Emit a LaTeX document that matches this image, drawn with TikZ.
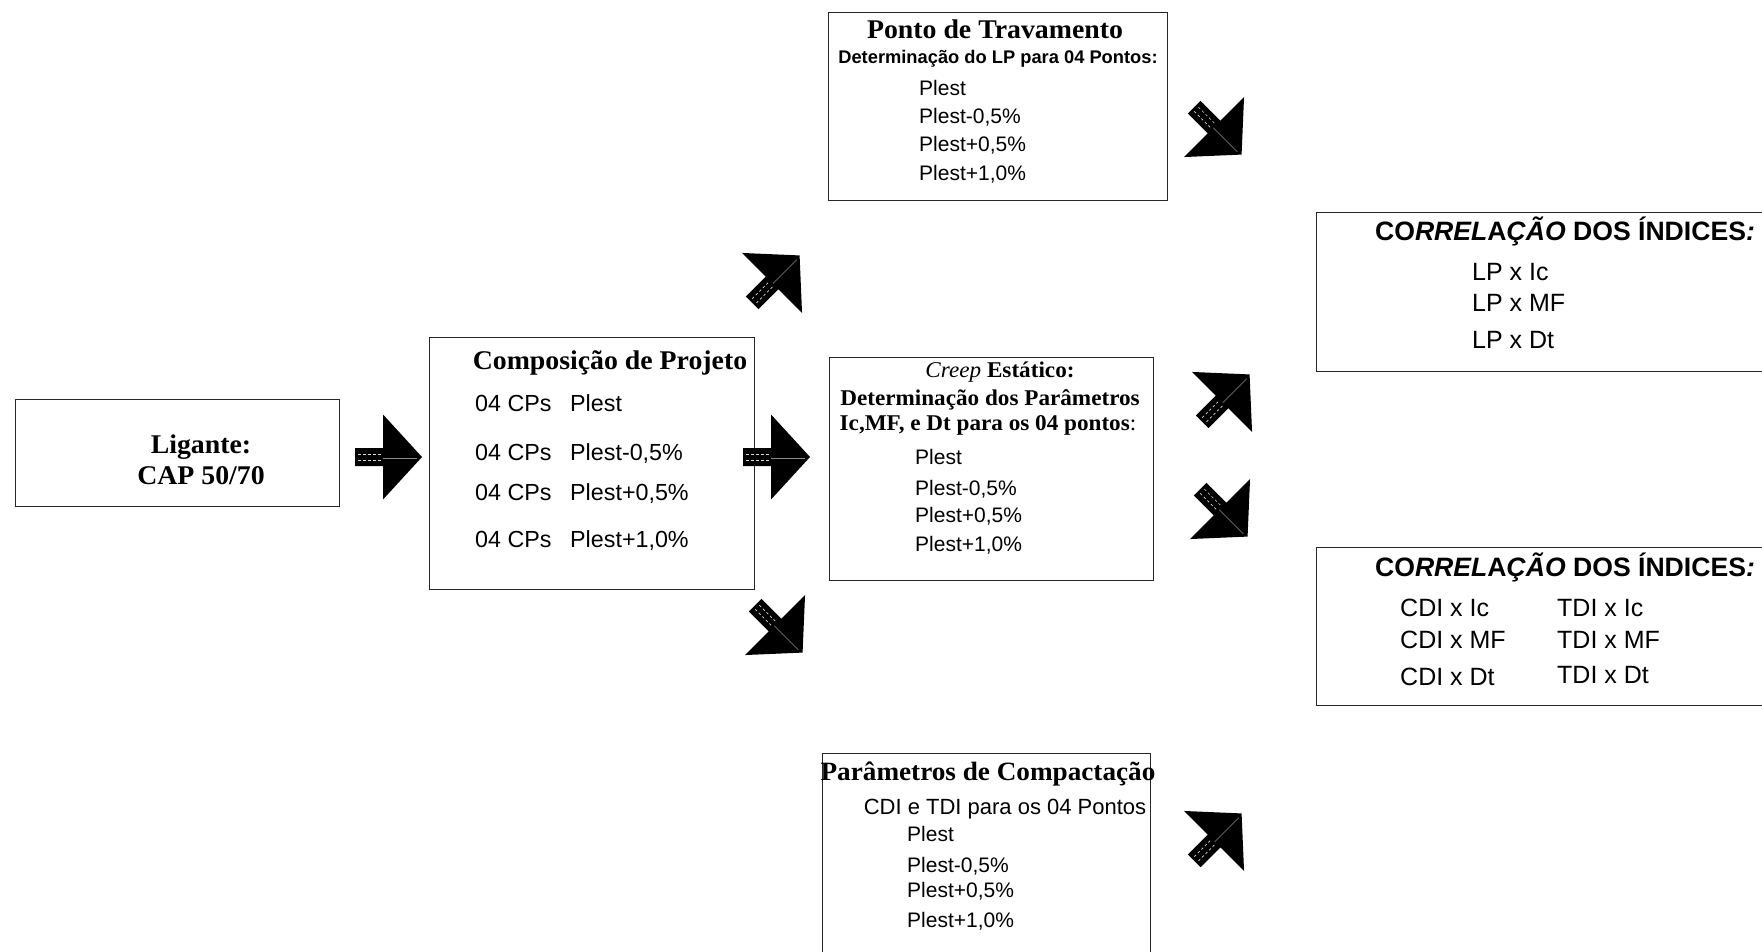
\documentclass[tikz,border=0pt]{standalone}
\usepackage{fontspec}
\setmainfont{Liberation Serif}
\setsansfont{Liberation Sans}
\newfontfamily\headrm[FakeStretch=1.03]{Liberation Serif}
\newcommand\fsz[1]{\fontsize{#1}{#1}\selectfont}

\tikzset{
  frame/.style={draw=black!85, line width=1.4pt, anchor=north west, inner sep=0pt},
  ttl/.style={anchor=base, inner sep=0pt, font=\headrm\bfseries\fsz{27}},
  sub/.style={anchor=base, inner sep=0pt, font=\headrm\bfseries\fsz{22.5}},
  item/.style={anchor=base west, inner sep=0pt, font=\sffamily\fsz{21}},
  cpitem/.style={anchor=base west, inner sep=0pt, font=\sffamily\fsz{23.3}},
  corrttl/.style={anchor=base, inner sep=0pt, font=\sffamily\bfseries\fsz{26.6}},
  corritem/.style={anchor=base west, inner sep=0pt, font=\sffamily\fsz{25}},
  blockarrow/.pic={
    \fill[black] (-28,-9) -- (0,-9) -- (0,-42.5) -- (39,0) -- (0,42.5) -- (0,9) -- (-28,9) -- cycle;
    \draw[white!85!black, line width=0.7pt, dash pattern=on 2.5pt off 2.5pt]
      (-25,-3) -- (-1,-3) (-25,3) -- (-1,3);
    \draw[white!55!black, line width=0.5pt] (0,1) -- (34,1);
  }
}

\begin{document}
\begin{tikzpicture}[x=1pt, y=-1pt]
\useasboundingbox (0,0) rectangle (1762,951);
\clip (0,0) rectangle (1762,951);
\fill[white] (0,0) rectangle (1762,951);

% boxes
\node[frame, minimum width=324pt, minimum height=107pt] (ligante) at (15,399) {};
\node[frame, minimum width=325pt, minimum height=252pt] (comp) at (429,337) {};
\node[frame, minimum width=339pt, minimum height=188pt] (ponto) at (828,12) {};
\node[frame, minimum width=324pt, minimum height=223pt] (creep) at (829,357) {};
\node[frame, minimum width=328pt, minimum height=260pt] (compac) at (822,753) {};
\node[frame, minimum width=500pt, minimum height=159pt] (corrA) at (1316,212) {};
\node[frame, minimum width=500pt, minimum height=158pt] (corrB) at (1316,547) {};

% Ligante
\node[ttl] (lig1) at (201,453) {Ligante:};
\node[ttl] (lig2) at (201,484) {CAP 50/70};

% Composicao de projeto
\node[ttl] (comp-t) at (610,369) {Composição de Projeto};
\foreach \y/\v [count=\i] in {411/{Plest}, 460/{Plest-0,5\%}, 500/{Plest+0,5\%}, 547/{Plest+1,0\%}}{
  \node[cpitem] (comp-a\i) at (475,\y) {04 CPs};
  \node[cpitem] (comp-b\i) at (570,\y) {\v};
}

% Ponto de travamento
\node[ttl] (ponto-t) at (995,38) {Ponto de Travamento};
\node[anchor=base, inner sep=0pt, font=\sffamily\bfseries\fsz{18.3}] (ponto-s) at (998,63) {Determinação do LP para 04 Pontos:};
\foreach \y/\v [count=\i] in {95.5/{Plest}, 123.5/{Plest-0,5\%}, 151.5/{Plest+0,5\%}, 180.5/{Plest+1,0\%}}
  \node[item] (ponto-\i) at (919,\y) {\v};

% Creep estatico
\node[sub, font=\headrm\fsz{22.5}] (creep-t) at (1000,377) {\textit{Creep} \textbf{Estático:}};
\node[sub] (creep-s1) at (990,405) {Determinação dos Parâmetros};
\node[sub] (creep-s2) at (988,430) {Ic,MF, e Dt para os 04 pontos\textmd{:}};
\foreach \y/\v [count=\i] in {464.5/{Plest}, 495.5/{Plest-0,5\%}, 522.5/{Plest+0,5\%}, 551.5/{Plest+1,0\%}}
  \node[item] (creep-\i) at (915,\y) {\v};

% Parametros de compactacao
\node[ttl, font=\headrm\bfseries\fsz{26.4}] (compac-t) at (988,780) {Parâmetros de Compactação};
\node[anchor=base, inner sep=0pt, font=\sffamily\fsz{22}] (compac-s) at (1005,814) {CDI e TDI para os 04 Pontos};
\foreach \y/\v [count=\i] in {841.5/{Plest}, 872.5/{Plest-0,5\%}, 897.5/{Plest+0,5\%}, 927.5/{Plest+1,0\%}}
  \node[item] (compac-\i) at (907,\y) {\v};

% Correlacoes
\node[corrttl] (corrA-t) at (1565,240) {CO\textit{RREL}A\textit{ÇÃO} DOS ÍNDICES\textit{:}};
\node[corritem] (corrA-1) at (1472,280) {LP x Ic};
\node[corritem] (corrA-2) at (1472,311) {LP x MF};
\node[corritem] (corrA-3) at (1472,348) {LP x Dt};

\node[corrttl] (corrB-t) at (1565,576) {CO\textit{RREL}A\textit{ÇÃO} DOS ÍNDICES\textit{:}};
\node[corritem] (corrB-1) at (1400,616) {CDI x Ic};
\node[corritem] (corrB-2) at (1400,648) {CDI x MF};
\node[corritem] (corrB-3) at (1400,685) {CDI x Dt};
\node[corritem] (corrB-4) at (1557,616) {TDI x Ic};
\node[corritem] (corrB-5) at (1557,648) {TDI x MF};
\node[corritem] (corrB-6) at (1557,683) {TDI x Dt};

% block arrows
\pic (arrA) at (383,457) {blockarrow};
\pic (arrB) at (771,457) {blockarrow};
\pic[rotate=45] (arrC) at (772,283) {blockarrow};
\pic[rotate=-45] (arrD) at (775,625) {blockarrow};
\pic[rotate=-45] (arrE) at (1214,127) {blockarrow};
\pic[rotate=45] (arrF) at (1222,402) {blockarrow};
\pic[rotate=-45] (arrG) at (1220,509) {blockarrow};
\pic[rotate=45] (arrH) at (1214,841) {blockarrow};
\end{tikzpicture}
\end{document}
